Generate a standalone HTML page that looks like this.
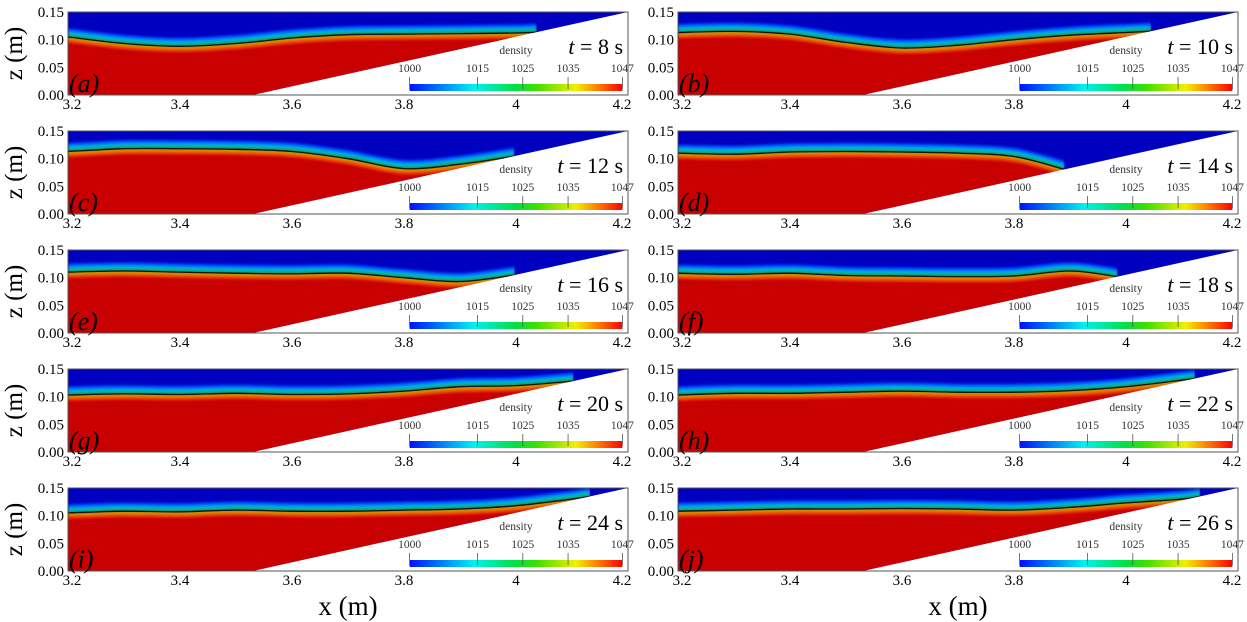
<!DOCTYPE html>
<html><head><meta charset="utf-8"><style>
html,body{margin:0;padding:0;background:#fff;}
svg{display:block;font-family:"Liberation Serif",serif;}
</style></head><body>
<svg id="fig" width="1247" height="622" viewBox="0 0 1247 622" xmlns="http://www.w3.org/2000/svg">
<defs id="defs">
<linearGradient id="cb" x1="0" x2="1" y1="0" y2="0">
<stop offset="0" stop-color="#0010ff"/><stop offset="0.3" stop-color="#00f0f0"/><stop offset="0.5" stop-color="#00e040"/><stop offset="0.6" stop-color="#40e000"/><stop offset="0.78" stop-color="#f0f000"/><stop offset="0.88" stop-color="#ff8000"/><stop offset="1" stop-color="#ff0000"/>
</linearGradient>
<filter id="bl" x="-5%" y="-50%" width="110%" height="200%"><feGaussianBlur stdDeviation="1.2"/></filter>
</defs>
</svg>
<script>
const xs=[3.2,3.3,3.4,3.5,3.6,3.7,3.8,3.9,4.0,4.1,4.2];
const panelLetters=['a','b','c','d','e','f','g','h','i','j'];
const panelTimes=[8,10,12,14,16,18,20,22,24,26];
const iface_a=[0.105,0.093,0.088,0.093,0.103,0.109,0.110,0.111,0.112,0.116,0.116];
const iface_b=[0.113,0.115,0.110,0.095,0.085,0.090,0.100,0.108,0.113,0.118,0.120];
const iface_c=[0.113,0.118,0.118,0.117,0.113,0.100,0.082,0.090,0.105,0.118,0.120];
const iface_d=[0.110,0.108,0.112,0.113,0.112,0.110,0.104,0.078,0.095,0.110,0.130];
const iface_e=[0.110,0.112,0.110,0.108,0.107,0.108,0.100,0.093,0.105,0.120,0.135];
const iface_f=[0.108,0.106,0.108,0.104,0.103,0.102,0.103,0.112,0.100,0.110,0.140];
const iface_g=[0.103,0.105,0.104,0.106,0.104,0.105,0.110,0.118,0.120,0.128,0.140];
const iface_h=[0.103,0.106,0.106,0.108,0.110,0.108,0.108,0.111,0.118,0.130,0.142];
const iface_i=[0.105,0.108,0.107,0.110,0.108,0.108,0.110,0.112,0.118,0.130,0.145];
const iface_j=[0.108,0.110,0.112,0.112,0.113,0.112,0.110,0.115,0.123,0.130,0.145];
const ifaces=[iface_a,iface_b,iface_c,iface_d,iface_e,iface_f,iface_g,iface_h,iface_i,iface_j];
const yTicks=[0.15,0.10,0.05,0.00];
const xTicks=[3.2,3.4,3.6,3.8,4.0,4.2];
const xTickLabels=['3.2','3.4','3.6','3.8','4','4.2'];
const cbValues=[1000,1015,1025,1035,1047];

const NS='http://www.w3.org/2000/svg';
const svg=document.getElementById('fig');
const defs=document.getElementById('defs');
function el(t,a,p){const e=document.createElementNS(NS,t);for(const k in a)e.setAttribute(k,a[k]);(p||svg).appendChild(e);return e;}
const lefts=[68,678], W=560, H=83, tops=[12,131,250,369,488];
const slopeZ=x=>Math.max(0,0.15*(x-3.53)/0.67);
function smooth(P){let d='M'+P[0][0].toFixed(1)+','+P[0][1].toFixed(1);
  for(let i=0;i<P.length-1;i++){const p0=P[Math.max(0,i-1)],p1=P[i],p2=P[i+1],p3=P[Math.min(P.length-1,i+2)];
    const c1=[p1[0]+(p2[0]-p0[0])/6,p1[1]+(p2[1]-p0[1])/6],c2=[p2[0]-(p3[0]-p1[0])/6,p2[1]-(p3[1]-p1[1])/6];
    d+=' C'+c1.map(v=>v.toFixed(1))+' '+c2.map(v=>v.toFixed(1))+' '+p2.map(v=>v.toFixed(1));}
  return d;}

for(let i=0;i<10;i++){
  const col=i%2,row=Math.floor(i/2);
  const L=lefts[col],T=tops[row],B=T+H;
  const X=x=>L+(x-3.2)/1.0*W, Y=z=>B-z/0.15*H;
  const g=el('g',{});
  
  
  el('rect',{x:L,y:T,width:W,height:H,fill:'#0000c0'},g);
  const f=ifaces[i];
  let pts=[];
  for(let k=0;k<xs.length;k++){
    const sz=slopeZ(xs[k]);
    if(f[k]<=sz+0.002 && k>0){
      const x0=xs[k-1],d0=f[k-1]-slopeZ(x0),d1=f[k]-sz;
      const t=d0/(d0-d1);const xf=x0+t*(xs[k]-x0);
      pts.push([xf,slopeZ(xf)]);break;
    }
    pts.push([xs[k],f[k]]);
  }
  const P=pts.map(p=>[X(p[0]),Y(p[1])]);
  const frontX=P[P.length-1][0];
  const cp=el('clipPath',{id:'cp'+i},defs);
  el('rect',{x:L,y:T,width:frontX-L,height:H},cp);
  const d=smooth(P);
  const bands=[[-7,'#0050ff',3],[-5,'#00a0ff',2.5],[-3,'#00e0e0',2.5],[-1.5,'#00d060',2],[1.5,'#b0e000',2],[3,'#ffa000',2],[4.5,'#f04000',2]];
  el('path',{d:d+' L'+X(3.53)+','+B+' L'+L+','+B+' Z',fill:'#c80000'},g);
  const bg=el('g',{'clip-path':'url(#cp'+i+')'},g);
  bands.forEach(b=>el('path',{d:d,fill:'none',stroke:b[1],'stroke-width':b[2],transform:'translate(0,'+b[0]+')',filter:'url(#bl)'},bg));
  const il=el('path',{d:d,fill:'none',stroke:'#101010','stroke-width':1.3},g);
  
  
  el('polygon',{points:X(3.53)+','+B+' '+X(4.2)+','+T+' '+(X(4.2)+1)+','+T+' '+(X(4.2)+1)+','+(B+1)+' '+X(3.53)+','+(B+1),fill:'#fff'},g);
  el('rect',{x:L,y:T,width:W,height:H,fill:'none',stroke:'#555','stroke-width':1},g);
  const cx0=X(3.81),cx1=X(4.19),cy=B-11;
  const cbar=el('rect',{x:cx0,y:cy,width:cx1-cx0,height:7,fill:'url(#cb)'},g);
  
  
  cbValues.forEach(v=>{const xx=cx0+(v-1000)/47*(cx1-cx0);
    el('line',{x1:xx,x2:xx,y1:cy-7,y2:cy+5,stroke:'#555','stroke-width':0.8},g);
    const t=el('text',{x:xx,y:cy-12,'font-size':11.5,'text-anchor':'middle',fill:'#333'},g);t.textContent=v;});
  const dt=el('text',{x:(cx0+cx1)/2,y:cy-30,'font-size':11.5,'text-anchor':'middle',fill:'#333'},g);dt.textContent='density';
  const tl=el('text',{x:L+W-5,y:T+42,'font-size':22,'text-anchor':'end'},g);
  tl.innerHTML='<tspan font-style="italic">t</tspan> = '+panelTimes[i]+' s';
  
  
  const pl=el('text',{x:L+1,y:B-3,'font-size':26,'font-style':'italic'},g);pl.textContent='('+panelLetters[i]+')';
  
  
  yTicks.forEach(v=>{const t=el('text',{x:L-4,y:Y(v)+5,'font-size':15,'text-anchor':'end'},g);t.textContent=v.toFixed(2);});
  xTicks.forEach((v,k)=>{const t=el('text',{x:X(v)+(k==0?4:k==5?-6:0),y:B+14,'font-size':15,'text-anchor':'middle'},g);t.textContent=xTickLabels[k];});
  if(col==0){const t=el('text',{x:0,y:0,'font-size':25,'text-anchor':'middle',transform:'translate(22,'+(T+H/2)+') rotate(-90)'});t.textContent='z (m)';
    }
}
[348,958].forEach(cx=>{const t=el('text',{x:cx,y:615,'font-size':27,'text-anchor':'middle'});t.textContent='x (m)';
  });
</script>
</body></html>
